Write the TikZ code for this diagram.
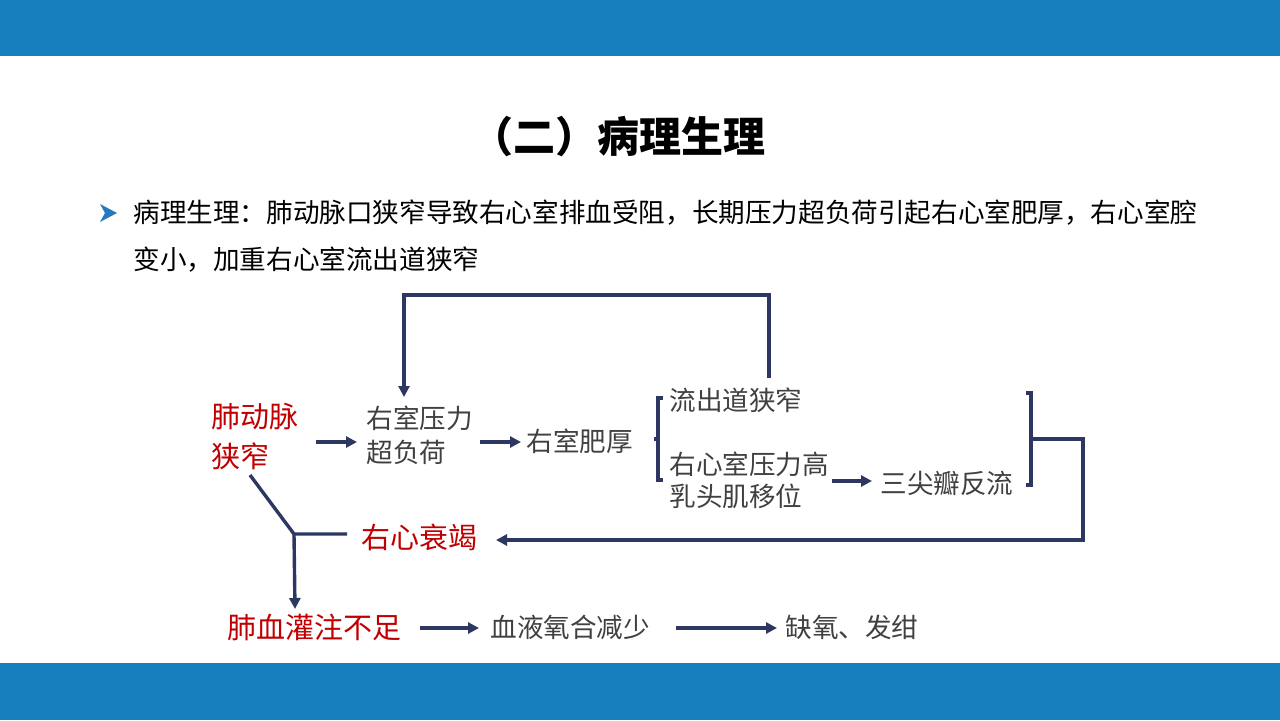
\documentclass[tikz,border=0pt]{standalone}
\usepackage{fontspec}
\setmainfont{Noto Sans CJK SC}
\usetikzlibrary{arrows.meta}
\definecolor{bar}{RGB}{23,127,189}
\definecolor{navy}{RGB}{44,56,98}
\definecolor{dred}{RGB}{192,0,0}
\definecolor{gtxt}{RGB}{64,64,64}
\definecolor{bul}{RGB}{40,120,190}
\begin{document}
\begin{tikzpicture}[x=0.5pt,y=-0.5pt,
 gt/.style={anchor=west,inner sep=0,text=gtxt,font=\fontsize{13.3}{16}\selectfont},
 rt/.style={anchor=west,inner sep=0,text=dred,font=\fontsize{14.5}{17}\selectfont},
 bt/.style={anchor=west,inner sep=0,text=black,font=\fontsize{13.3}{16}\selectfont},
 ln/.style={draw=navy,line width=1.7pt},
 ar/.style={ln,-{Triangle[length=5.5pt,width=5.5pt]}}]
\useasboundingbox (0,0) rectangle (1280,720);
\fill[bar] (0,0) rectangle (1280,56);
\fill[bar] (0,663) rectangle (1280,720);
% title
\node[inner sep=0,font=\fontsize{21}{25}\selectfont\bfseries] (title) at (618,137) {（二）病理生理};
% bullet
\fill[bul] (100,204) -- (117,213) -- (100,222) -- (105,213) -- cycle;
\node[bt] (b1) at (133,213) {病理生理：肺动脉口狭窄导致右心室排血受阻，长期压力超负荷引起右心室肥厚，右心室腔};
\node[bt] (b2) at (133,260) {变小，加重右心室流出道狭窄};
% diagram texts
\node[rt] (pa1) at (211,417) {肺动脉};
\node[rt] (pa2) at (211,456) {狭窄};
\node[gt] (ry1) at (366,418) {右室压力};
\node[gt] (ry2) at (366,452) {超负荷};
\node[gt] (rh) at (526,441) {右室肥厚};
\node[gt] (lc) at (669,400) {流出道狭窄};
\node[gt] (rp1) at (669,464) {右心室压力高};
\node[gt] (rp2) at (669,496) {乳头肌移位};
\node[gt] (tr) at (880,483) {三尖瓣反流};
\node[rt] (rf) at (361,537) {右心衰竭};
\node[rt] (pp) at (227,627) {肺血灌注不足};
\node[gt] (bo) at (490,627) {血液氧合减少};
\node[gt] (hx) at (785,627) {缺氧、发绀};
% coordinates
\coordinate (a1s) at (316,442); \coordinate (a1e) at (357,442);
\coordinate (a2s) at (480,442); \coordinate (a2e) at (521,442);
\coordinate (a3s) at (832,481); \coordinate (a3e) at (872,481);
\coordinate (a4s) at (420,628); \coordinate (a4e) at (479,628);
\coordinate (a5s) at (676,628); \coordinate (a5e) at (777,628);
\coordinate (fbS) at (769,378); \coordinate (fbA) at (769,295); \coordinate (fbB) at (404,295); \coordinate (fbE) at (404,397);
\coordinate (lbT) at (658,398); \coordinate (lbB) at (658,480); \coordinate (lbM) at (658,439);
\coordinate (rbT) at (1031,393); \coordinate (rbB) at (1031,485); \coordinate (rbM) at (1031,439);
\coordinate (rbR) at (1083,439); \coordinate (rbD) at (1083,540); \coordinate (rfE) at (496,540);
\coordinate (dS) at (250,475); \coordinate (dJ) at (294,534); \coordinate (dH) at (347,534); \coordinate (dE) at (295,609);
% connectors
\draw[ar] (a1s) -- (a1e);
\draw[ar] (a2s) -- (a2e);
\draw[ar] (a3s) -- (a3e);
\draw[ar] (a4s) -- (a4e);
\draw[ar] (a5s) -- (a5e);
\draw[ar] (fbS) -- (fbA) -- (fbB) -- (fbE);
\draw[ln] ([xshift=2.5pt]lbT) -- (lbT) -- (lbB) -- ([xshift=2.5pt]lbB);
\draw[ln] (lbM) -- ([xshift=-2pt]lbM);
\draw[ln] ([xshift=-2.5pt]rbT) -- (rbT) -- (rbB) -- ([xshift=-2.5pt]rbB);
\draw[ar] (rbM) -- (rbR) -- (rbD) -- (rfE);
\draw[ln] (dS) -- (dJ) -- (dH);
\draw[ar] (dJ) -- (dE);
\end{tikzpicture}
\end{document}
